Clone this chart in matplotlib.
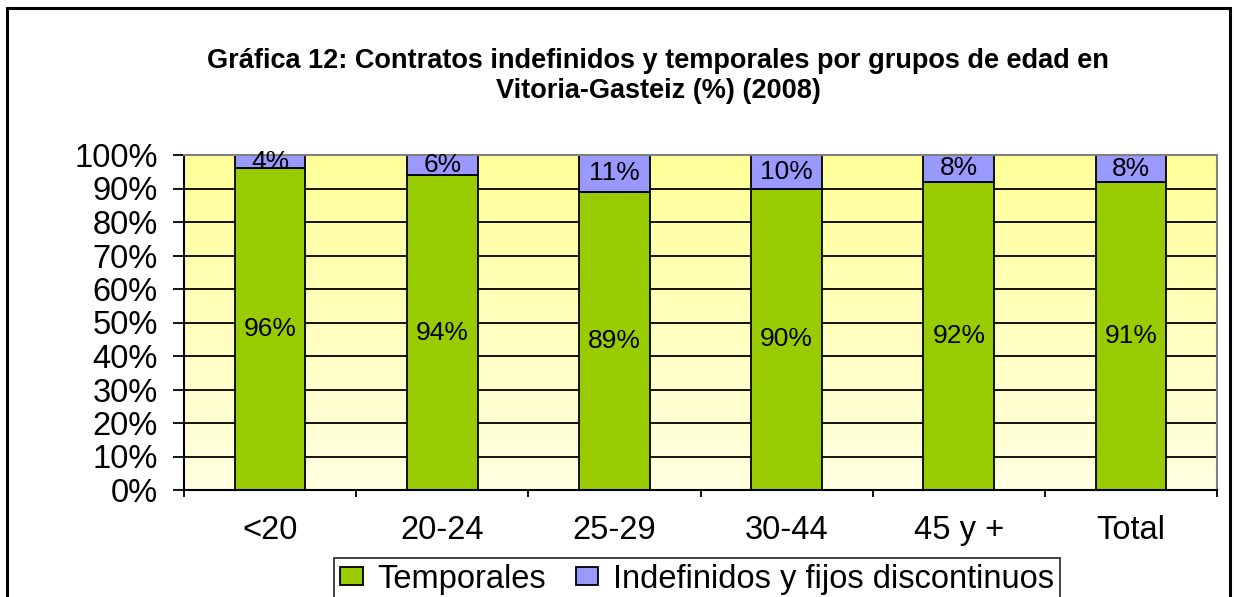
import numpy as np
import matplotlib
matplotlib.use("Agg")
import matplotlib.pyplot as plt
from matplotlib.colors import LinearSegmentedColormap
from matplotlib.patches import Rectangle

plt.rcParams['font.family'] = ['Liberation Sans', 'DejaVu Sans']

# Data
categories = ['<20', '20-24', '25-29', '30-44', '45 y +', 'Total']
temporales = np.array([96, 94, 89, 90, 92, 91])
indefinidos = np.array([4, 6, 11, 10, 8, 8])
series_names = ['Temporales', 'Indefinidos y fijos discontinuos']
title = 'Gráfica 12: Contratos indefinidos y temporales por grupos de edad en\nVitoria-Gasteiz (%) (2008)'

green = '#99CC00'
purple = '#9999FF'

W, H = 1234, 597
fig = plt.figure(figsize=(W / 100, H / 100), dpi=100)
ax = fig.add_axes([184 / W, 1 - 490 / H, (1217 - 184) / W, (490 - 155) / H])

# 100% stacked shares
total = temporales + indefinidos
share_t = temporales / total * 100
share_i = indefinidos / total * 100

x = np.arange(len(categories))
ax.set_xlim(-0.5, len(categories) - 0.5)
ax.set_ylim(0, 100)

# gradient background of the plot area
cmap = LinearSegmentedColormap.from_list('bg', ['#FFFFE2', '#FFFF99'])
grad = np.linspace(0, 1, 256).reshape(-1, 1)
ax.imshow(grad, extent=[-0.5, len(categories) - 0.5, 0, 100], origin='lower',
          aspect='auto', cmap=cmap, zorder=0)

# grid lines
for yv in range(10, 100, 10):
    ax.axhline(yv, color='black', lw=1.3, zorder=1)

bw = 0.41
ax.bar(x, share_t, bw, color=green, edgecolor='black', lw=1.3,
       label=series_names[0], zorder=2)
ax.bar(x, share_i, bw, bottom=share_t, color=purple, edgecolor='black', lw=1.3,
       label=series_names[1], zorder=2)

for i in range(len(categories)):
    ax.text(x[i], share_t[i] / 2, f'{temporales[i]}%', ha='center', va='center',
            fontsize=19, zorder=3)
    ax.text(x[i], share_t[i] + share_i[i] / 2, f'{indefinidos[i]}%', ha='center',
            va='center', fontsize=19, zorder=3)

ax.set_yticks(range(0, 101, 10))
ax.set_yticklabels([f'{v}%' for v in range(0, 101, 10)], fontsize=23.5)
ax.set_xticks(x)
ax.set_xticklabels(categories, fontsize=23.5)
ax.tick_params(axis='x', length=0, pad=18)
ax.set_xticks(np.arange(-0.5, len(categories), 1), minor=True)
ax.tick_params(axis='x', which='minor', length=5, width=1.3, direction='out')
ax.tick_params(axis='y', length=8, width=1.3, direction='out', pad=11)

for s in ['left', 'bottom']:
    ax.spines[s].set_linewidth(1.5)
    ax.spines[s].set_color('black')
for s in ['top', 'right']:
    ax.spines[s].set_linewidth(1.5)
    ax.spines[s].set_color('#808080')

fig.text(658 / W, 1 - 76 / H, title, ha='center', va='center', fontsize=19.5,
         fontweight='bold', linespacing=1.15)

leg = fig.legend(loc='lower center', bbox_to_anchor=(697 / W, -0.033), ncol=2,
                 fontsize=23.5, frameon=True, fancybox=False, edgecolor='black',
                 handlelength=0.7, handleheight=0.5, handletextpad=0.45,
                 columnspacing=0.9, borderpad=0.18)
leg.get_frame().set_linewidth(1.3)

fig.patches.append(Rectangle((7 / W, -0.1), (1230 - 7) / W, 1.1 - 8 / H,
                             transform=fig.transFigure, fill=False,
                             edgecolor='black', lw=2.2))

fig.savefig('out.png', dpi=100)
